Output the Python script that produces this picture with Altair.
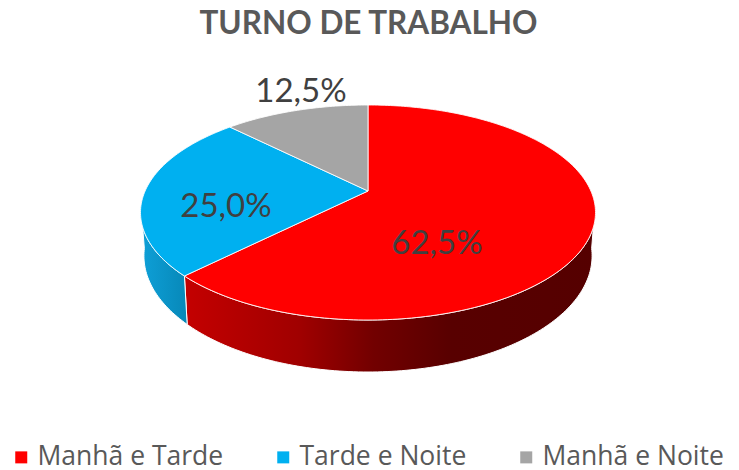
import math
import altair as alt

categories = ["Manhã e Tarde", "Tarde e Noite", "Manhã e Noite"]
shares = [62.5, 25.0, 12.5]
labels = ["62,5%", "25,0%", "12,5%"]
colors = ["#FF0000", "#00B0F0", "#A5A5A5"]

PAD_TOP = 40
OX, OY = 8, 8 + PAD_TOP
CX, CY = 368 - OX, 191 - OY
A, B, K = 222.9, 103.2, 0.2
DEPTH, SHRINK = 41.6, 0.985


def top_pt(t):
    r = math.radians(t)
    u, v = math.sin(r), math.cos(r)
    w = 1 + K * v
    return [CX + A * u / w, CY - B * v / w]


def bot_pt(t):
    r = math.radians(t)
    u, v = math.sin(r), math.cos(r)
    w = 1 + K * v
    return [CX + SHRINK * A * u / w, CY - B * v / w + DEPTH / w]


def sweep(t0, t1):
    n = max(2, int(abs(t1 - t0)) + 1)
    return [t0 + (t1 - t0) * i / (n - 1) for i in range(n)]


def feature(name, ring):
    ring = ring + [ring[0]]
    return {
        "type": "Feature",
        "properties": {"name": name},
        "geometry": {"type": "Polygon", "coordinates": [ring]},
    }


tops, spans, start = [], [], 0.0
for name, s in zip(categories, shares):
    end = start + s * 3.6
    spans.append((start, end))
    tops.append(feature(name, [[CX, CY]] + [top_pt(t) for t in sweep(start, end)]))
    start = end


def side(t0, t1):
    ts = sweep(t0, t1)
    return [feature("side", [top_pt(t) for t in ts] + [bot_pt(t) for t in reversed(ts)])]


proj = dict(type="identity", scale=1, translate=[0, 0])

red_side = alt.Chart(alt.Data(values=side(98, spans[0][1]))).mark_geoshape(
    stroke="#ffffff", strokeWidth=1,
    fill=alt.Gradient(
        gradient="linear", x1=0, x2=1, y1=0, y2=0,
        stops=[
            alt.GradientStop(color="#c40000", offset=0),
            alt.GradientStop(color="#a00000", offset=0.28),
            alt.GradientStop(color="#720000", offset=0.46),
            alt.GradientStop(color="#580000", offset=0.65),
            alt.GradientStop(color="#550000", offset=1),
        ],
    ),
).project(**proj)

blue_side = alt.Chart(alt.Data(values=side(spans[0][1], 262))).mark_geoshape(
    stroke="#ffffff", strokeWidth=1,
    fill=alt.Gradient(
        gradient="linear", x1=0, x2=1, y1=0, y2=0,
        stops=[
            alt.GradientStop(color="#0ea0d8", offset=0),
            alt.GradientStop(color="#0788b8", offset=1),
        ],
    ),
).project(**proj)

top = alt.Chart(alt.Data(values=tops)).mark_geoshape(
    stroke="#ffffff", strokeWidth=1, strokeOpacity=0.85
).encode(
    color=alt.Color(
        "properties.name:N",
        scale=alt.Scale(domain=categories, range=colors),
        sort=categories,
        legend=alt.Legend(
            title=None, orient="none", legendX=0, legendY=396, direction="horizontal",
            columns=3, columnPadding=46, symbolType="square", symbolSize=144,
            symbolStrokeWidth=0, labelFont="Open Sans", labelFontSize=26.5, labelColor="#595959",
            labelLimit=300, symbolOffset=0, labelOffset=3,
        ),
    )
).project(**proj)


def pct(i, px, py):
    return alt.Chart(alt.Data(values=[{"t": labels[i]}])).mark_text(
        font="Lato", fontSize=33, color="#404040", align="center", baseline="middle"
    ).encode(text="t:N", x=alt.value(px - OX), y=alt.value(py - OY))


chart = alt.layer(
    red_side, blue_side, top, pct(0, 437, 244), pct(1, 226, 207), pct(2, 301, 92)
).properties(
    width=723, height=422,
    padding={"left": 0, "top": PAD_TOP, "right": 0, "bottom": 0},
    autosize=alt.AutoSizeParams(type="none"),
    title=alt.TitleParams(
        "TURNO DE TRABALHO", font="Lato", fontSize=31.5, fontWeight="bold",
        color="#595959", anchor="middle", dx=-1, offset=8,
    ),
).configure_view(stroke=None)

chart.save("out.html", embed_options={"renderer": "svg", "actions": False})
